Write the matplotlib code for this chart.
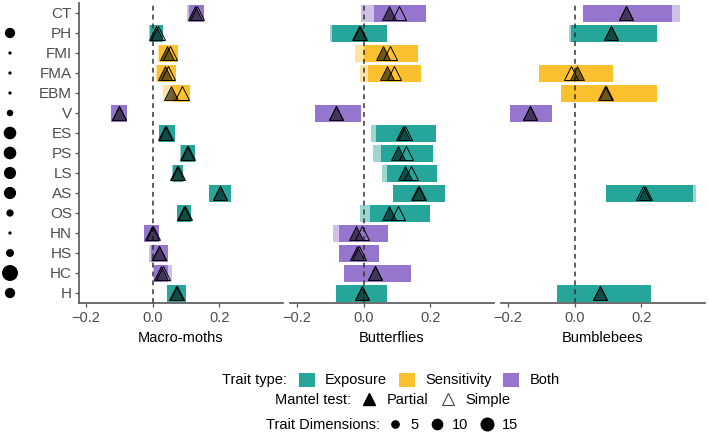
import numpy as np
import matplotlib
matplotlib.use("Agg")
import matplotlib.pyplot as plt
from matplotlib.patches import Patch
from matplotlib.lines import Line2D

plt.rcParams["font.family"] = ["Liberation Sans", "DejaVu Sans"]

# -------- Data (rows listed top to bottom) --------
traits = ["CT", "PH", "FMI", "FMA", "EBM", "V", "ES", "PS", "LS", "AS", "OS", "HN", "HS", "HC", "H"]
trait_type = ["Both", "Exposure", "Sensitivity", "Sensitivity", "Sensitivity", "Both",
              "Exposure", "Exposure", "Exposure", "Exposure", "Exposure",
              "Both", "Both", "Both", "Exposure"]
trait_dims = [np.nan, 10, 1, 1, 1, 4, 15, 15, 14, 14, 5, 1, 6, 24, 10]
taxa = ["Macro-moths", "Butterflies", "Bumblebees"]
nan = np.nan

# Macro-moths
moth_p_est = [0.126, 0.010, 0.044, 0.038, 0.054, -0.100, 0.038, 0.103, 0.072, 0.202, 0.095, -0.002, 0.018, 0.025, 0.071]
moth_s_est = [0.133, 0.016, 0.052, 0.046, 0.088, -0.100, 0.039, 0.106, 0.075, 0.203, 0.096, 0.000, 0.020, 0.032, 0.072]
moth_p_lo = [0.103, -0.010, 0.017, 0.011, 0.032, -0.124, 0.018, 0.083, 0.058, 0.169, 0.073, -0.026, -0.010, 0.002, 0.043]
moth_p_hi = [0.150, 0.030, 0.072, 0.068, 0.085, -0.075, 0.066, 0.124, 0.088, 0.235, 0.115, 0.020, 0.043, 0.057, 0.100]
moth_s_lo = [0.108, -0.008, 0.020, 0.014, 0.058, -0.124, 0.018, 0.085, 0.060, 0.169, 0.073, -0.026, -0.004, 0.004, 0.043]
moth_s_hi = [0.154, 0.032, 0.075, 0.070, 0.111, -0.075, 0.066, 0.126, 0.090, 0.235, 0.115, 0.020, 0.045, 0.047, 0.100]

# Butterflies
fly_p_est = [0.076, -0.015, 0.059, 0.069, nan, -0.082, 0.117, 0.102, 0.124, 0.164, 0.076, -0.024, -0.019, 0.034, -0.006]
fly_s_est = [0.105, -0.012, 0.078, 0.090, nan, -0.082, 0.125, 0.128, 0.143, 0.165, 0.102, -0.005, -0.015, 0.035, -0.004]
fly_p_lo = [-0.007, -0.100, -0.027, -0.011, nan, -0.144, 0.022, 0.027, 0.054, 0.087, -0.011, -0.090, -0.074, -0.060, -0.082]
fly_p_hi = [0.188, 0.069, 0.162, 0.173, nan, -0.009, 0.217, 0.209, 0.221, 0.243, 0.200, 0.073, 0.045, 0.143, 0.071]
fly_s_lo = [0.030, -0.094, 0.000, 0.013, nan, -0.144, 0.036, 0.051, 0.070, 0.087, 0.020, -0.074, -0.072, -0.060, -0.082]
fly_s_hi = [0.188, 0.069, 0.162, 0.173, nan, -0.009, 0.217, 0.209, 0.221, 0.243, 0.200, 0.073, 0.045, 0.143, 0.071]

# Bumblebees
bee_p_est = [0.154, 0.108, nan, 0.006, 0.093, -0.134, nan, nan, nan, 0.211, nan, nan, nan, nan, 0.076]
bee_s_est = [0.155, 0.109, nan, -0.012, 0.090, -0.134, nan, nan, nan, 0.204, nan, nan, nan, nan, 0.077]
bee_p_lo = [0.026, -0.016, nan, -0.106, -0.040, -0.193, nan, nan, nan, 0.095, nan, nan, nan, nan, -0.052]
bee_p_hi = [0.314, 0.246, nan, 0.116, 0.245, -0.068, nan, nan, nan, 0.362, nan, nan, nan, nan, 0.228]
bee_s_lo = [0.026, -0.011, nan, -0.106, -0.040, -0.193, nan, nan, nan, 0.095, nan, nan, nan, nan, -0.052]
bee_s_hi = [0.291, 0.246, nan, 0.116, 0.245, -0.068, nan, nan, nan, 0.354, nan, nan, nan, nan, 0.228]

panels = [
    (moth_p_est, moth_s_est, moth_p_lo, moth_p_hi, moth_s_lo, moth_s_hi),
    (fly_p_est, fly_s_est, fly_p_lo, fly_p_hi, fly_s_lo, fly_s_hi),
    (bee_p_est, bee_s_est, bee_p_lo, bee_p_hi, bee_s_lo, bee_s_hi),
]

type_colors = {"Exposure": "#26A69A", "Sensitivity": "#FBC02D", "Both": "#9575CD"}
legend_dims = [5, 10, 15]
AXIS_GREY = "#555555"

# -------- Figure --------
W, H = 709, 434
fig = plt.figure(figsize=(W / 100, H / 100), dpi=100)

y = np.arange(len(traits))[::-1] + 1.0
cols = np.array([type_colors[t] for t in trait_type])
ax_bottom = 1 - 303 / H
ax_height = 300 / H
panel_left = [79, 290, 501]

axes = []
for k, (p_est, s_est, p_lo, p_hi, s_lo, s_hi) in enumerate(panels):
    ax = fig.add_axes([panel_left[k] / W, ax_bottom, 204 / W, ax_height])
    axes.append(ax)
    p_est, s_est = np.array(p_est), np.array(s_est)
    p_lo, p_hi = np.array(p_lo), np.array(p_hi)
    s_lo, s_hi = np.array(s_lo), np.array(s_hi)
    ok = ~np.isnan(p_est)

    # partial interval (light), simple interval on top
    ax.barh(y[ok], (p_hi - p_lo)[ok], left=p_lo[ok], height=0.85,
            color=cols[ok], alpha=0.45, linewidth=0, zorder=1)
    ax.barh(y[ok], (s_hi - s_lo)[ok], left=s_lo[ok], height=0.85,
            color=cols[ok], linewidth=0, zorder=2)
    ax.axvline(0, color="#333333", lw=1.1, ls=(0, (3.2, 2.6)), zorder=3)
    ax.plot(p_est[ok], y[ok], "^", ms=9.5, mfc=(0, 0, 0, 0.55), mec="black",
            mew=0.6, ls="none", zorder=4)
    ax.plot(s_est[ok], y[ok], "^", ms=9.5, mfc="none", mec="black",
            mew=0.7, ls="none", zorder=5)

    ax.set_xlim(-0.22, 0.39)
    ax.set_ylim(0.5, 15.5)
    ax.set_xticks([-0.2, 0.0, 0.2])
    ax.set_xticklabels(["\u22120.2", "0.0", "0.2"])
    for s in ["top", "right"]:
        ax.spines[s].set_visible(False)
    ax.spines["bottom"].set_color(AXIS_GREY)
    ax.spines["bottom"].set_linewidth(1.2)
    ax.tick_params(axis="x", colors=AXIS_GREY, labelcolor="#4d4d4d",
                   labelsize=10.5, length=3, width=0.9, pad=3)
    if k == 0:
        ax.spines["left"].set_color(AXIS_GREY)
        ax.spines["left"].set_linewidth(1.2)
        ax.set_yticks(y)
        ax.set_yticklabels(traits)
        ax.tick_params(axis="y", colors=AXIS_GREY, labelcolor="#4d4d4d",
                       labelsize=11, length=3, width=0.9, pad=2)
    else:
        ax.spines["left"].set_visible(False)
        ax.set_yticks([])
    ax.text(0.5, -0.117, taxa[k], transform=ax.transAxes, ha="center",
            va="center", fontsize=10.5, color="black")

# -------- Trait dimension dots --------
ax_dot = fig.add_axes([0, ax_bottom, 20 / W, ax_height])
dims = np.array(trait_dims)
ax_dot.scatter(np.full(len(y), 0.5), y, s=5.5 * dims, color="black", linewidths=0)
ax_dot.set_xlim(0, 1)
ax_dot.set_ylim(0.5, 15.5)
ax_dot.axis("off")

# -------- Legends --------
fs = 10.5
type_handles = [Patch(facecolor=type_colors[t], edgecolor="none") for t in ["Exposure", "Sensitivity", "Both"]]
leg1 = fig.legend(type_handles, ["Exposure", "Sensitivity", "Both"], loc="center left",
                  bbox_to_anchor=(299 / W, 1 - 380 / H), ncol=3, frameon=False,
                  fontsize=fs, borderpad=0, borderaxespad=0, handlelength=1.1,
                  handleheight=1.1, handletextpad=0.7, columnspacing=0.8)
fig.text(287 / W, 1 - 380 / H, "Trait type:", ha="right", va="center", fontsize=fs)

test_handles = [Line2D([], [], marker="^", ls="none", ms=9, color="black"),
                Line2D([], [], marker="^", ls="none", ms=9, mfc="none", mec="#444444", mew=0.8)]
leg2 = fig.legend(test_handles, ["Partial", "Simple"], loc="center left",
                  bbox_to_anchor=(362 / W, 1 - 400 / H), ncol=2, frameon=False,
                  fontsize=fs, borderpad=0, borderaxespad=0, handlelength=1.0,
                  handletextpad=0.7, columnspacing=0.8)
fig.text(351 / W, 1 - 400 / H, "Mantel test:", ha="right", va="center", fontsize=fs)

dim_handles = [Line2D([], [], marker="o", ls="none", color="black", ms=np.sqrt(5.5 * v))
               for v in legend_dims]
leg3 = fig.legend(dim_handles, [str(v) for v in legend_dims], loc="center left",
                  bbox_to_anchor=(384 / W, 1 - 425 / H), ncol=3, frameon=False,
                  fontsize=fs, borderpad=0, borderaxespad=0, handlelength=1.5,
                  handletextpad=0.3, columnspacing=0.5)
fig.text(380 / W, 1 - 425 / H, "Trait Dimensions:", ha="right", va="center", fontsize=fs)

fig.savefig("out.png", dpi=100)
